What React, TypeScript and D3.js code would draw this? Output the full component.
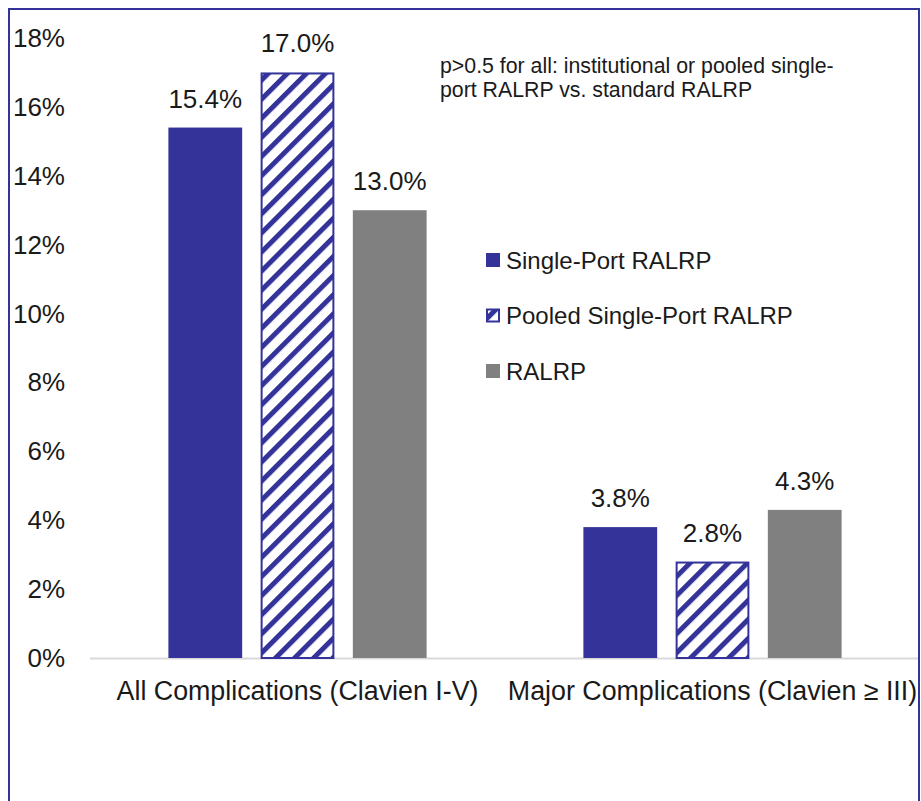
import React from "react";
import * as d3 from "d3";

const categories = ["All Complications (Clavien I-V)", "Major Complications (Clavien ≥ III)"];
const seriesNames = ["Single-Port RALRP", "Pooled Single-Port RALRP", "RALRP"];
const singlePort = [0.154, 0.038];
const pooledSinglePort = [0.17, 0.028];
const ralrp = [0.13, 0.043];
const yTicks = [0, 0.02, 0.04, 0.06, 0.08, 0.1, 0.12, 0.14, 0.16, 0.18];
const note = ["p>0.5 for all: institutional or pooled single-", "port RALRP vs. standard RALRP"];

const W = 921;
const H = 801;
const BLUE = "#333399";
const GRAY = "#808080";
const FONT = "Liberation Sans, Arial, sans-serif";

export default function App() {
  const series = [singlePort, pooledSinglePort, ralrp];
  const x0 = d3.scaleBand<string>().domain(categories).range([90, 920]).paddingInner(0).paddingOuter(0);
  const x1 = d3
    .scaleBand<number>()
    .domain([0, 1, 2])
    .range([0, x0.bandwidth()])
    .paddingInner(0.2)
    .paddingOuter(0.85);
  const y = d3.scaleLinear().domain([0, 0.18]).range([658, 38]);
  const fmt = d3.format(".0%");
  const vfmt = d3.format(".1%");

  const fillFor = (s: number) => (s === 0 ? BLUE : s === 1 ? "url(#hatch)" : GRAY);

  return (
    <svg width={W} height={H} style={{ position: "absolute", left: 0, top: 0 }} fontFamily={FONT}>
      <defs>
        <pattern id="hatch" patternUnits="userSpaceOnUse" width="13.5" height="13.5" patternTransform="rotate(45)">
          <rect width="13.5" height="13.5" fill="#fff" />
          <rect x="0" y="0" width="5" height="13.5" fill={BLUE} />
        </pattern>
      </defs>
      <rect x={0} y={0} width={W} height={H} fill="#fff" />
      <rect x={9} y={9} width={910} height={H + 20} fill="none" stroke={BLUE} strokeWidth={2} />

      {yTicks.map((t) => (
        <text key={t} x={65} y={y(t)} textAnchor="end" dominantBaseline="central" fontSize={26} fill="#1a1a1a">
          {fmt(t)}
        </text>
      ))}

      <line x1={90} x2={918} y1={y(0) + 0.5} y2={y(0) + 0.5} stroke="#d9d9d9" strokeWidth={2} />

      {categories.map((c, ci) => (
        <g key={c} transform={`translate(${x0(c)},0)`}>
          {series.map((vals, si) => {
            const bx = x1(si) as number;
            const bw = x1.bandwidth();
            const by = y(vals[ci]);
            const bh = y(0) - by;
            return (
              <g key={si}>
                {si === 1 ? (
                  <rect x={bx + 1} y={by + 1} width={bw - 2} height={bh - 1} fill="url(#hatch)" stroke={BLUE} strokeWidth={2} />
                ) : (
                  <rect x={bx} y={by} width={bw} height={bh} fill={fillFor(si)} />
                )}
                <text x={bx + bw / 2} y={by - 20} textAnchor="middle" fontSize={26} fill="#1a1a1a">
                  {vfmt(vals[ci])}
                </text>
              </g>
            );
          })}
          <text x={x0.bandwidth() / 2} y={700} textAnchor="middle" fontSize={26.8} fill="#1a1a1a">
            {c}
          </text>
        </g>
      ))}

      {seriesNames.map((n, i) => {
        const cy = 260 + i * 55.5;
        return (
          <g key={n}>
            {i === 1 ? (
              <rect x={487} y={cy - 6} width={12} height={12} fill="url(#hatch)" stroke={BLUE} strokeWidth={2} />
            ) : (
              <rect x={486} y={cy - 7} width={14} height={14} fill={fillFor(i)} />
            )}
            <text x={506} y={cy} dominantBaseline="central" fontSize={24} fill="#1a1a1a">
              {n}
            </text>
          </g>
        );
      })}

      {note.map((l, i) => (
        <text key={i} x={440} y={73 + i * 24} fontSize={21.3} fill="#1a1a1a">
          {l}
        </text>
      ))}
    </svg>
  );
}
